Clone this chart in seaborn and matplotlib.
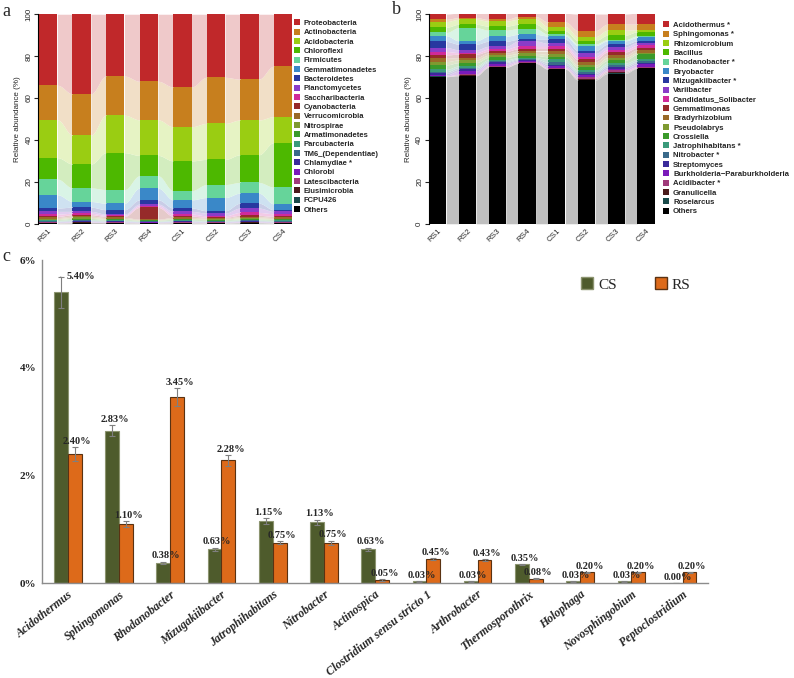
# Soil bacterial community composition (panels a, b) and differential genera (panel c)

import numpy as np
import pandas as pd
import matplotlib
matplotlib.use("Agg")
import matplotlib.pyplot as plt
import matplotlib.colors as mcolors
from matplotlib.patches import Patch
import seaborn as sns

sns.set_style("white")
plt.rcParams["font.family"] = ["Liberation Sans", "DejaVu Sans"]

# ---------------- DATA ----------------
samples = ["RS1", "RS2", "RS3", "RS4", "CS1", "CS2", "CS3", "CS4"]

# panel a: phylum relative abundance (%), stack order top -> bottom
phyla = ["Proteobacteria", "Actinobacteria", "Acidobacteria", "Chloroflexi", "Firmicutes",
         "Gemmatimonadetes", "Bacteroidetes", "Planctomycetes", "Saccharibacteria", "Cyanobacteria",
         "Verrucomicrobia", "Nitrospirae", "Armatimonadetes", "Parcubacteria", "TM6_(Dependentiae)",
         "Chlamydiae *", "Chlorobi", "Latescibacteria", "Elusimicrobia", "FCPU426", "Others"]
proteobacteria = [33.9, 38.0, 29.5, 32.0, 34.7, 30.1, 31.0, 24.8]
actinobacteria = [16.5, 19.7, 18.7, 18.4, 19.0, 22.0, 19.5, 24.1]
acidobacteria = [18.1, 13.8, 17.9, 17.0, 16.3, 17.2, 16.6, 12.4]
chloroflexi = [10.2, 11.4, 17.6, 9.7, 14.2, 12.0, 13.2, 21.2]
firmicutes = [7.5, 6.5, 6.5, 5.9, 4.4, 6.2, 5.1, 8.0]
gemmatimonadetes = [6.3, 2.7, 3.1, 5.6, 3.9, 6.3, 4.8, 2.8]
bacteroidetes = [1.6, 2.0, 2.1, 2.0, 1.6, 1.1, 2.3, 0.8]
planctomycetes = [1.3, 0.9, 0.6, 0.8, 1.3, 1.3, 2.1, 1.1]
saccharibacteria = [1.1, 0.7, 0.5, 0.8, 1.0, 0.7, 1.4, 1.3]
cyanobacteria = [0.5, 0.7, 0.5, 5.6, 0.6, 0.4, 0.6, 0.5]
verrucomicrobia = [0.5, 0.6, 0.5, 0.3, 0.5, 0.4, 0.6, 0.5]
nitrospirae = [0.5, 0.5, 0.4, 0.3, 0.4, 0.4, 0.5, 0.4]
armatimonadetes = [0.4, 0.5, 0.4, 0.3, 0.4, 0.4, 0.4, 0.5]
parcubacteria = [0.3, 0.4, 0.3, 0.2, 0.3, 0.3, 0.3, 0.3]
tm6 = [0.3, 0.3, 0.3, 0.2, 0.3, 0.2, 0.3, 0.3]
chlamydiae = [0.2, 0.3, 0.2, 0.2, 0.2, 0.2, 0.3, 0.2]
chlorobi = [0.2, 0.2, 0.2, 0.2, 0.2, 0.2, 0.2, 0.2]
latescibacteria = [0.2, 0.2, 0.2, 0.1, 0.2, 0.2, 0.2, 0.2]
elusimicrobia = [0.1, 0.2, 0.1, 0.1, 0.1, 0.1, 0.1, 0.1]
fcpu426 = [0.1, 0.1, 0.1, 0.1, 0.1, 0.1, 0.1, 0.1]
phylum_others = [0.2, 0.3, 0.3, 0.2, 0.3, 0.2, 0.4, 0.2]

phylum_values = [proteobacteria, actinobacteria, acidobacteria, chloroflexi, firmicutes,
                 gemmatimonadetes, bacteroidetes, planctomycetes, saccharibacteria, cyanobacteria,
                 verrucomicrobia, nitrospirae, armatimonadetes, parcubacteria, tm6,
                 chlamydiae, chlorobi, latescibacteria, elusimicrobia, fcpu426, phylum_others]

# panel b: genus relative abundance (%)
genera = ["Acidothermus *", "Sphingomonas *", "Rhizomicrobium", "Bacillus", "Rhodanobacter *",
          "Bryobacter", "Mizugakiibacter *", "Variibacter", "Candidatus_Solibacter", "Gemmatimonas",
          "Bradyrhizobium", "Pseudolabrys", "Crossiella", "Jatrophihabitans *", "Nitrobacter *",
          "Streptomyces", "Burkholderia\u2212Paraburkholderia", "Acidibacter *", "Granulicella",
          "Roseiarcus", "Others"]
acidothermus = [2.5, 2.1, 2.9, 1.6, 4.1, 7.9, 4.8, 5.2]
sphingomonas = [1.1, 0.8, 0.8, 1.3, 2.2, 2.9, 2.9, 2.7]
rhizomicrobium = [2.7, 2.4, 2.4, 2.4, 2.1, 1.9, 2.4, 1.0]
bacillus = [2.5, 1.6, 1.9, 2.1, 1.6, 1.6, 2.1, 1.9]
rhodanobacter = [1.6, 6.3, 2.9, 2.7, 0.8, 0.8, 0.6, 0.8]
bryobacter = [2.7, 1.6, 2.4, 2.4, 1.6, 2.4, 1.6, 1.6]
mizugakiibacter = [2.9, 2.7, 2.4, 0.8, 1.9, 1.3, 1.3, 0.8]
variibacter = [1.9, 1.3, 1.3, 2.4, 1.3, 1.6, 1.3, 1.3]
candidatus_solibacter = [1.6, 0.8, 1.1, 1.3, 1.3, 1.3, 1.1, 1.1]
gemmatimonas = [1.6, 1.6, 0.8, 1.1, 1.1, 1.1, 1.6, 1.1]
bradyrhizobium = [1.6, 1.1, 1.1, 1.1, 1.6, 1.6, 1.1, 1.3]
pseudolabrys = [1.6, 1.3, 1.0, 1.0, 1.1, 1.1, 1.3, 0.8]
crossiella = [2.1, 1.6, 1.1, 1.1, 1.3, 1.3, 1.3, 2.4]
jatrophihabitans = [1.1, 0.8, 0.8, 0.5, 1.3, 0.8, 1.1, 0.8]
nitrobacter = [0.8, 0.8, 0.5, 0.5, 1.1, 0.8, 0.8, 0.8]
streptomyces = [0.8, 0.8, 0.6, 0.5, 0.8, 0.8, 0.8, 0.8]
burkholderia = [0.4, 1.6, 1.0, 0.5, 0.8, 0.8, 0.8, 1.1]
acidibacter = [0.2, 0.5, 0.6, 0.5, 0.5, 0.8, 0.8, 0.5]
granulicella = [0.1, 0.1, 0.1, 0.1, 0.1, 0.5, 0.5, 0.2]
roseiarcus = [0.1, 0.1, 0.1, 0.1, 0.1, 0.2, 0.2, 0.1]
genus_others = [70.2, 70.6, 74.6, 76.5, 73.7, 68.6, 71.7, 74.2]

genus_values = [acidothermus, sphingomonas, rhizomicrobium, bacillus, rhodanobacter,
                bryobacter, mizugakiibacter, variibacter, candidatus_solibacter, gemmatimonas,
                bradyrhizobium, pseudolabrys, crossiella, jatrophihabitans, nitrobacter,
                streptomyces, burkholderia, acidibacter, granulicella, roseiarcus, genus_others]

# panel c: mean relative abundance (%) and error
c_genera = ["Acidothermus", "Sphingomonas", "Rhodanobacter", "Mizugakiibacter", "Jatrophihabitans",
            "Nitrobacter", "Actinospica", "Clostridium sensu stricto 1", "Arthrobacter",
            "Thermosporothrix", "Holophaga", "Novosphingobium", "Peptoclostridium"]
cs_mean = [5.40, 2.83, 0.38, 0.63, 1.15, 1.13, 0.63, 0.03, 0.03, 0.35, 0.03, 0.03, 0.00]
rs_mean = [2.40, 1.10, 3.45, 2.28, 0.75, 0.75, 0.05, 0.45, 0.43, 0.08, 0.20, 0.20, 0.20]
cs_err = [0.29, 0.10, 0.02, 0.03, 0.05, 0.05, 0.03, 0.005, 0.005, 0.01, 0.005, 0.005, 0.0]
rs_err = [0.13, 0.05, 0.17, 0.10, 0.03, 0.04, 0.02, 0.02, 0.02, 0.01, 0.01, 0.01, 0.01]

taxa_colors = ["#C0282A", "#C77F1E", "#9ACD12", "#4DB800", "#66D49A", "#3A88C8", "#2838A0",
               "#8A3CC8", "#D02A9A", "#962A2A", "#9A6A28", "#7E9A30", "#3A9A2A", "#3A9A7A",
               "#3A6A8A", "#3A2A9A", "#7A1ABA", "#A03A7A", "#4A1A1A", "#1A4A4A", "#000000"]
group_colors = {"CS": "#4E5B2C", "RS": "#DD6A1A"}


def light(col, a=0.25):
    rgb = np.array(mcolors.to_rgb(col))
    return tuple(a * rgb + (1 - a) * 1.0)


def stacked_flow(ax, values, colors, width):
    x = np.arange(len(samples))
    bottom = np.zeros(len(samples))
    for vals, col in zip(values[::-1], colors[::-1]):
        vals = np.array(vals)
        top = bottom + vals
        for i in range(len(x) - 1):
            xs = np.linspace(x[i] + width / 2, x[i + 1] - width / 2, 40)
            t = (xs - xs[0]) / (xs[-1] - xs[0])
            s = (1 - np.cos(np.pi * t)) / 2
            lo = bottom[i] + s * (bottom[i + 1] - bottom[i])
            hi = top[i] + s * (top[i + 1] - top[i])
            ax.fill_between(xs, lo, hi, color=light(col), linewidth=0)
        ax.bar(x, vals, width, bottom=bottom, color=col, linewidth=0)
        bottom = top
    ax.set_xlim(-0.3, len(x) - 0.7)
    ax.set_ylim(0, 100)
    ax.set_xticks(x)
    ax.set_xticklabels(samples, rotation=45, ha="right", rotation_mode="anchor", fontsize=5.8)
    ax.set_yticks(range(0, 101, 20))
    ax.set_yticklabels(range(0, 101, 20), rotation=90, va="center", fontsize=5.8)
    ax.tick_params(axis="x", length=0, pad=3)
    ax.tick_params(axis="y", length=3, width=0.8, pad=1, left=True)
    ax.set_ylabel("Relative abundance (%)", fontsize=5.8, labelpad=3)
    for sp in ["top", "right", "bottom"]:
        ax.spines[sp].set_visible(False)
    ax.spines["left"].set_color("black")
    ax.spines["left"].set_linewidth(0.8)


fig = plt.figure(figsize=(7.94, 6.78), dpi=100)

# ---------- panel a ----------
ax_a = fig.add_axes([0.048, 0.670, 0.321, 0.309])
stacked_flow(ax_a, phylum_values, taxa_colors, 0.55)
handles_a = [Patch(facecolor=c, edgecolor="none") for c in taxa_colors]
fig.legend(handles_a, phyla, loc="upper left", bbox_to_anchor=(0.366, 0.976), frameon=False,
           prop={"size": 5.5, "weight": "bold"}, handlelength=0.8, handleheight=0.8,
           handletextpad=0.5, labelspacing=0.23, borderaxespad=0)

# ---------- panel b ----------
ax_b = fig.add_axes([0.540, 0.670, 0.285, 0.309])
stacked_flow(ax_b, genus_values, taxa_colors, 0.58)
handles_b = [Patch(facecolor=c, edgecolor="none") for c in taxa_colors]
fig.legend(handles_b, genera, loc="upper left", bbox_to_anchor=(0.831, 0.973), frameon=False,
           prop={"size": 5.6, "weight": "bold"}, handlelength=0.8, handleheight=0.8,
           handletextpad=0.5, labelspacing=0.21, borderaxespad=0)

# ---------- panel c ----------
ax_c = fig.add_axes([0.053, 0.140, 0.839, 0.4765])
df_c = pd.DataFrame({
    "Genus": c_genera * 2,
    "Group": ["CS"] * len(c_genera) + ["RS"] * len(c_genera),
    "Abundance": cs_mean + rs_mean,
})
sns.barplot(data=df_c, x="Genus", y="Abundance", hue="Group", hue_order=["CS", "RS"],
            palette=group_colors, width=0.54, gap=0, errorbar=None, linewidth=0.8,
            saturation=1, ax=ax_c)

serif = ["Liberation Serif", "DejaVu Serif"]
edge = {"CS": "#8C9470", "RS": "#5A3212"}
for cont, grp, means, errs in zip(ax_c.containers, ["CS", "RS"], [cs_mean, rs_mean], [cs_err, rs_err]):
    xs = [p.get_x() + p.get_width() / 2 for p in cont.patches]
    for p in cont.patches:
        p.set_edgecolor(edge[grp])
    ax_c.errorbar(xs, means, yerr=errs, fmt="none", ecolor="#7F7F7F", elinewidth=0.8,
                  capsize=2.5, capthick=0.8)
    for i, (xv, m, e) in enumerate(zip(xs, means, errs)):
        if grp == "CS" and i == 0:
            ax_c.annotate(f"{m:.2f}%", xy=(xv, m + e), xytext=(xv + 0.12, m + e),
                          fontsize=7.5, fontweight="bold", family=serif, va="center",
                          arrowprops=dict(arrowstyle="-", color="#7F7F7F", lw=0.6))
        else:
            ax_c.text(xv + 0.05, m + e + 0.02, f"{m:.2f}%", ha="center", va="bottom",
                      fontsize=7.5, fontweight="bold", family=serif)

ax_c.set_xlim(-0.5, len(c_genera) - 0.5)
ax_c.set_ylim(0, 6)
ax_c.set_yticks([0, 2, 4, 6])
ax_c.set_yticklabels(["0%", "2%", "4%", "6%"], fontsize=8, fontweight="bold", family=serif)
ax_c.set_xticks(range(len(c_genera)))
ax_c.set_xticklabels(c_genera, rotation=38, ha="right", va="top", rotation_mode="anchor",
                     fontsize=8.5, fontweight="bold", fontstyle="italic", family=serif)
ax_c.tick_params(axis="both", length=0, pad=4)
ax_c.set_xlabel("")
ax_c.set_ylabel("")
for sp in ["top", "right"]:
    ax_c.spines[sp].set_visible(False)
for sp in ["left", "bottom"]:
    ax_c.spines[sp].set_color("#8C8C8C")
    ax_c.spines[sp].set_linewidth(1.0)

ax_c.legend(handles=[Patch(facecolor=group_colors["CS"], edgecolor="#8C9470"),
                     Patch(facecolor=group_colors["RS"], edgecolor="#5A3212")],
            labels=["CS", "RS"], loc="upper left", bbox_to_anchor=(0.80, 0.965), ncol=2,
            frameon=False, prop={"family": serif, "size": 11}, handlelength=0.8,
            handleheight=0.8, handletextpad=0.3, columnspacing=2.5, borderaxespad=0)

# panel letters
fig.text(0.003, 0.996, "a", fontsize=13, family=serif, va="top")
fig.text(0.494, 0.998, "b", fontsize=13, family=serif, va="top")
fig.text(0.003, 0.634, "c", fontsize=13, family=serif, va="top")

fig.savefig("out.png", dpi=100)
